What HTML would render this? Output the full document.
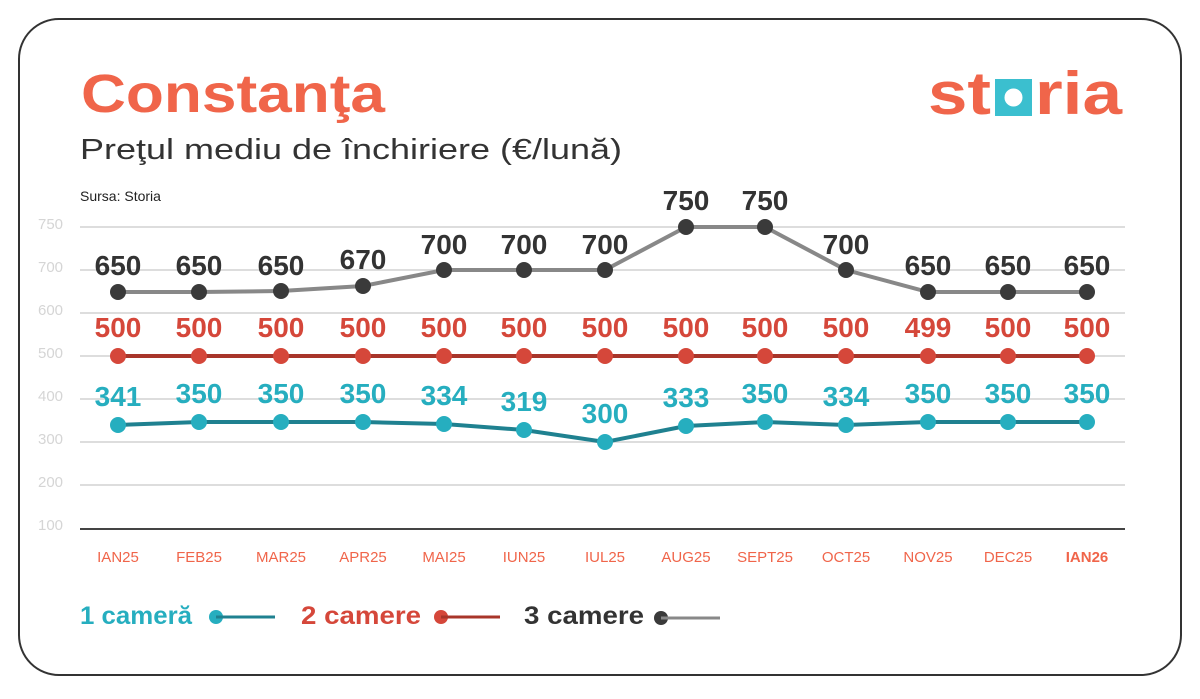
<!DOCTYPE html>
<html><head><meta charset="utf-8"><style>
body{margin:0;background:#fff;width:1200px;height:694px;overflow:hidden}
svg text{font-family:"Liberation Sans",sans-serif}
</style></head><body>
<svg width="1200" height="694" viewBox="0 0 1200 694" xmlns="http://www.w3.org/2000/svg">
<rect x="19" y="19" width="1162" height="656" rx="40" fill="#fff" stroke="#333" stroke-width="2"/>
<text x="81" y="112" font-size="54" font-weight="bold" fill="#F0654A" textLength="304" lengthAdjust="spacingAndGlyphs">Constanţa</text>
<text x="80" y="159" font-size="29" fill="#333" textLength="542" lengthAdjust="spacingAndGlyphs">Preţul mediu de închiriere (€/lună)</text>
<text x="80" y="201" font-size="14" fill="#222">Sursa: Storia</text>
<!-- logo -->
<text x="928" y="114" font-size="60" font-weight="bold" fill="#F0654A" textLength="63" lengthAdjust="spacingAndGlyphs">st</text>
<rect x="995" y="79" width="37" height="37" fill="#3BBFCF"/>
<circle cx="1013.5" cy="97.5" r="9" fill="#fff"/>
<text x="1035" y="114" font-size="60" font-weight="bold" fill="#F0654A" textLength="87" lengthAdjust="spacingAndGlyphs">ria</text>
<!-- grid -->
<g stroke="#ddd" stroke-width="2">
<line x1="80" x2="1125" y1="227" y2="227"/><line x1="80" x2="1125" y1="270" y2="270"/>
<line x1="80" x2="1125" y1="313" y2="313"/><line x1="80" x2="1125" y1="356" y2="356"/>
<line x1="80" x2="1125" y1="399" y2="399"/><line x1="80" x2="1125" y1="442" y2="442"/>
<line x1="80" x2="1125" y1="485" y2="485"/>
</g>
<line x1="80" x2="1125" y1="529" y2="529" stroke="#444" stroke-width="2"/>
<g font-size="15" fill="#d5d5d5">
<text x="38" y="229">750</text><text x="38" y="272">700</text><text x="38" y="315">600</text>
<text x="38" y="358">500</text><text x="38" y="401">400</text><text x="38" y="444">300</text>
<text x="38" y="487">200</text><text x="38" y="530">100</text>
</g>
<g font-size="15" fill="#F0654A" text-anchor="middle">
<text x="118" y="562">IAN25</text><text x="199" y="562">FEB25</text><text x="281" y="562">MAR25</text>
<text x="363" y="562">APR25</text><text x="444" y="562">MAI25</text><text x="524" y="562">IUN25</text>
<text x="605" y="562">IUL25</text><text x="686" y="562">AUG25</text><text x="765" y="562">SEPT25</text>
<text x="846" y="562">OCT25</text><text x="928" y="562">NOV25</text><text x="1008" y="562">DEC25</text>
<text x="1087" y="562" font-weight="bold">IAN26</text>
</g>
<!-- 3 camere -->
<polyline fill="none" stroke="#888" stroke-width="4" points="118,292 199,292 281,291 363,286 444,270 524,270 605,270 686,227 765,227 846,270 928,292 1008,292 1087,292"/>
<g fill="#3a3a3a">
<circle cx="118" cy="292" r="8"/><circle cx="199" cy="292" r="8"/><circle cx="281" cy="291" r="8"/><circle cx="363" cy="286" r="8"/><circle cx="444" cy="270" r="8"/><circle cx="524" cy="270" r="8"/><circle cx="605" cy="270" r="8"/><circle cx="686" cy="227" r="8"/><circle cx="765" cy="227" r="8"/><circle cx="846" cy="270" r="8"/><circle cx="928" cy="292" r="8"/><circle cx="1008" cy="292" r="8"/><circle cx="1087" cy="292" r="8"/>
</g>
<g font-size="28" font-weight="bold" fill="#333" text-anchor="middle">
<text x="118" y="275">650</text><text x="199" y="275">650</text><text x="281" y="275">650</text><text x="363" y="269">670</text><text x="444" y="254">700</text><text x="524" y="254">700</text><text x="605" y="254">700</text><text x="686" y="210">750</text><text x="765" y="210">750</text><text x="846" y="254">700</text><text x="928" y="275">650</text><text x="1008" y="275">650</text><text x="1087" y="275">650</text>
</g>
<!-- 2 camere -->
<line x1="118" x2="1087" y1="356" y2="356" stroke="#A8352A" stroke-width="4"/>
<g fill="#D5473A">
<circle cx="118" cy="356" r="8"/><circle cx="199" cy="356" r="8"/><circle cx="281" cy="356" r="8"/><circle cx="363" cy="356" r="8"/><circle cx="444" cy="356" r="8"/><circle cx="524" cy="356" r="8"/><circle cx="605" cy="356" r="8"/><circle cx="686" cy="356" r="8"/><circle cx="765" cy="356" r="8"/><circle cx="846" cy="356" r="8"/><circle cx="928" cy="356" r="8"/><circle cx="1008" cy="356" r="8"/><circle cx="1087" cy="356" r="8"/>
</g>
<g font-size="28" font-weight="bold" fill="#D5473A" text-anchor="middle">
<text x="118" y="337">500</text><text x="199" y="337">500</text><text x="281" y="337">500</text><text x="363" y="337">500</text><text x="444" y="337">500</text><text x="524" y="337">500</text><text x="605" y="337">500</text><text x="686" y="337">500</text><text x="765" y="337">500</text><text x="846" y="337">500</text><text x="928" y="337">499</text><text x="1008" y="337">500</text><text x="1087" y="337">500</text>
</g>
<!-- 1 camera -->
<polyline fill="none" stroke="#1F8190" stroke-width="4" points="118,425 199,422 281,422 363,422 444,424 524,430 605,442 686,426 765,422 846,425 928,422 1008,422 1087,422"/>
<g fill="#26AEBF">
<circle cx="118" cy="425" r="8"/><circle cx="199" cy="422" r="8"/><circle cx="281" cy="422" r="8"/><circle cx="363" cy="422" r="8"/><circle cx="444" cy="424" r="8"/><circle cx="524" cy="430" r="8"/><circle cx="605" cy="442" r="8"/><circle cx="686" cy="426" r="8"/><circle cx="765" cy="422" r="8"/><circle cx="846" cy="425" r="8"/><circle cx="928" cy="422" r="8"/><circle cx="1008" cy="422" r="8"/><circle cx="1087" cy="422" r="8"/>
</g>
<g font-size="28" font-weight="bold" fill="#26AEBF" text-anchor="middle">
<text x="118" y="406">341</text><text x="199" y="403">350</text><text x="281" y="403">350</text><text x="363" y="403">350</text><text x="444" y="405">334</text><text x="524" y="411">319</text><text x="605" y="423">300</text><text x="686" y="407">333</text><text x="765" y="403">350</text><text x="846" y="406">334</text><text x="928" y="403">350</text><text x="1008" y="403">350</text><text x="1087" y="403">350</text>
</g>
<!-- legend -->
<text x="80" y="624" font-size="25" font-weight="bold" fill="#26AEBF" textLength="112" lengthAdjust="spacingAndGlyphs">1 cameră</text>
<circle cx="216" cy="617" r="7" fill="#26AEBF"/><line x1="216" x2="275" y1="617" y2="617" stroke="#1F8190" stroke-width="3"/>
<text x="301" y="624" font-size="25" font-weight="bold" fill="#D5473A" textLength="120" lengthAdjust="spacingAndGlyphs">2 camere</text>
<circle cx="441" cy="617" r="7" fill="#D5473A"/><line x1="441" x2="500" y1="617" y2="617" stroke="#A8352A" stroke-width="3"/>
<text x="524" y="624" font-size="25" font-weight="bold" fill="#333" textLength="120" lengthAdjust="spacingAndGlyphs">3 camere</text>
<circle cx="661" cy="618" r="7" fill="#3a3a3a"/><line x1="661" x2="720" y1="618" y2="618" stroke="#888" stroke-width="3"/>
</svg>
</body></html>
